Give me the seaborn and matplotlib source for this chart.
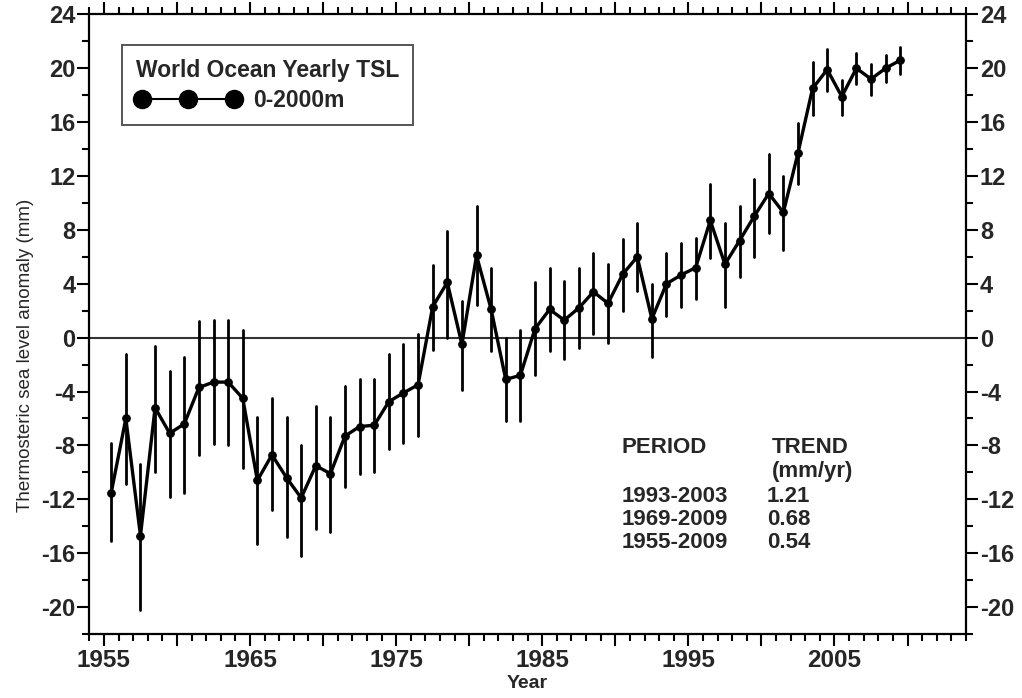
import numpy as np
import pandas as pd
import matplotlib
matplotlib.use("Agg")
import matplotlib.pyplot as plt
from matplotlib.lines import Line2D
from matplotlib.ticker import MultipleLocator, FuncFormatter
import seaborn as sns

# ---------------- data ----------------
years = [1955.5, 1956.5, 1957.5, 1958.5, 1959.5, 1960.5, 1961.5, 1962.5, 1963.5, 1964.5,
         1965.5, 1966.5, 1967.5, 1968.5, 1969.5, 1970.5, 1971.5, 1972.5, 1973.5, 1974.5,
         1975.5, 1976.5, 1977.5, 1978.5, 1979.5, 1980.5, 1981.5, 1982.5, 1983.5, 1984.5,
         1985.5, 1986.5, 1987.5, 1988.5, 1989.5, 1990.5, 1991.5, 1992.5, 1993.5, 1994.5,
         1995.5, 1996.5, 1997.5, 1998.5, 1999.5, 2000.5, 2001.5, 2002.5, 2003.5, 2004.5,
         2005.5, 2006.5, 2007.5, 2008.5, 2009.5]
tsl = [-11.5, -6.0, -14.7, -5.2, -7.1, -6.4, -3.7, -3.3, -3.3, -4.5,
       -10.6, -8.7, -10.4, -11.9, -9.5, -10.1, -7.3, -6.6, -6.5, -4.75,
       -4.1, -3.5, 2.3, 4.1, -0.5, 6.1, 2.1, -3.1, -2.8, 0.65,
       2.1, 1.3, 2.2, 3.4, 2.55, 4.7, 6.0, 1.4, 4.0, 4.65,
       5.2, 8.7, 5.45, 7.2, 9.0, 10.7, 9.3, 13.7, 18.5, 19.9,
       17.9, 20.0, 19.2, 20.0, 20.6]
tsl_hi = [-7.8, -1.2, -9.4, -0.6, -2.5, -1.4, 1.2, 1.3, 1.3, 0.6,
          -5.9, -4.5, -5.9, -8.0, -5.1, -5.9, -3.6, -3.1, -3.1, -1.2,
          -0.5, 0.3, 5.4, 7.9, 2.75, 9.8, 5.15, 0.0, 0.6, 4.1,
          5.2, 4.2, 5.15, 6.3, 5.45, 7.3, 8.5, 4.0, 6.3, 7.0,
          7.4, 11.4, 8.5, 9.8, 11.8, 13.6, 12.0, 15.9, 20.5, 21.4,
          19.1, 21.1, 20.3, 21.0, 21.6]
tsl_lo = [-15.1, -10.9, -20.2, -10.0, -11.8, -11.5, -8.7, -7.9, -8.0, -9.7,
          -15.3, -12.8, -14.8, -16.2, -14.2, -14.4, -11.1, -10.1, -10.0, -8.3,
          -7.8, -7.3, -0.9, 0.0, -3.9, 2.4, -1.0, -6.2, -6.2, -2.8,
          -1.0, -1.6, -0.8, 0.3, -0.4, 2.0, 3.5, -1.4, 1.6, 2.3,
          2.9, 5.9, 2.3, 4.5, 6.0, 7.75, 6.5, 11.4, 16.5, 18.3,
          16.5, 18.8, 18.0, 19.0, 19.55]

legend_title = "World Ocean Yearly TSL"
series_label = "0-2000m"
periods = ["1993-2003", "1969-2009", "1955-2009"]
trends = ["1.21", "0.68", "0.54"]

# long-form table: lower bound, value, upper bound per year
df = pd.DataFrame({
    "Year": years * 3,
    "TSL": tsl_lo + tsl + tsl_hi,
})

# ---------------- style ----------------
sns.set_style("ticks")
plt.rcParams["font.family"] = ["Liberation Sans", "DejaVu Sans"]

fig = plt.figure(figsize=(10.22, 6.98), dpi=100)
ax = fig.add_axes([0.0874, 0.0917, 0.8578, 0.8877])

ax.axhline(0, color="#333333", lw=1.5, zorder=1)

sns.lineplot(data=df, x="Year", y="TSL", estimator="median",
             errorbar=("pi", 100), err_style="bars",
             color="black", lw=2.4, marker="o", markersize=5.5,
             markeredgecolor="black",
             err_kws=dict(elinewidth=2.0, capsize=0),
             ax=ax, legend=False)

ax.set_xlim(1954, 2014)
ax.set_ylim(-22, 24)

ax.xaxis.set_major_locator(MultipleLocator(5))
ax.xaxis.set_minor_locator(MultipleLocator(1))
ax.xaxis.set_major_formatter(FuncFormatter(
    lambda v, p: f"{int(round(v))}" if int(round(v - 1955)) % 10 == 0 else ""))
ax.yaxis.set_major_locator(MultipleLocator(4))
ax.yaxis.set_minor_locator(MultipleLocator(2))
ax.yaxis.set_major_formatter(FuncFormatter(lambda v, p: f"{int(round(v))}"))

ax.tick_params(which="both", direction="out", top=True, right=True,
               labelright=True, width=1.5, color="black")
ax.tick_params(which="major", length=8.5)
ax.tick_params(which="minor", length=5)
ax.tick_params(axis="x", which="major", pad=2, labelsize=17.5)
ax.tick_params(axis="y", which="major", pad=1.5, labelsize=17)
for t in ax.yaxis.get_major_ticks():
    t.label1.set_fontweight("bold")
    t.label2.set_fontweight("bold")
for t in ax.xaxis.get_major_ticks():
    t.label1.set_fontweight("bold")

for s in ax.spines.values():
    s.set_linewidth(1.6)
    s.set_color("black")

ax.set_xlabel("Year", fontsize=14, fontweight="bold")
ax.xaxis.set_label_coords(0.5, -0.066)
ax.set_ylabel("Thermosteric sea level anomaly (mm)", fontsize=13.5)
ax.yaxis.set_label_coords(-0.063, 0.449)

# legend
handle = Line2D([], [], color="black", lw=1.5, marker="o", markersize=13)
leg = ax.legend(handles=[handle], labels=[series_label], title=legend_title,
                loc="upper left", bbox_to_anchor=(0.037, 0.9506),
                borderaxespad=0, numpoints=3, handlelength=4.6,
                handletextpad=0.55, borderpad=0.6, labelspacing=0.3,
                frameon=True, fancybox=False, framealpha=1,
                edgecolor="#555555",
                prop={"weight": "bold", "size": 16.5},
                title_fontproperties={"weight": "bold", "size": 16.5})
leg.get_frame().set_linewidth(1.4)
leg._legend_box.align = "left"

# trend table
tx_per, tx_tr, tx_num = 0.6073, 0.7784, 0.7727
tfont = dict(fontsize=16, fontweight="bold", va="baseline", ha="left",
             transform=ax.transAxes)
ax.text(tx_per, 0.2916, "PERIOD", **tfont)
ax.text(tx_tr, 0.2916, "TREND", **tfont)
ax.text(tx_tr, 0.2540, "(mm/yr)", **tfont)
for i, (p, t) in enumerate(zip(periods, trends)):
    y = 0.2135 - i * 0.0376
    ax.text(tx_per, y, p, **tfont)
    ax.text(tx_num, y, t, **tfont)

fig.savefig("out.png", dpi=100)
